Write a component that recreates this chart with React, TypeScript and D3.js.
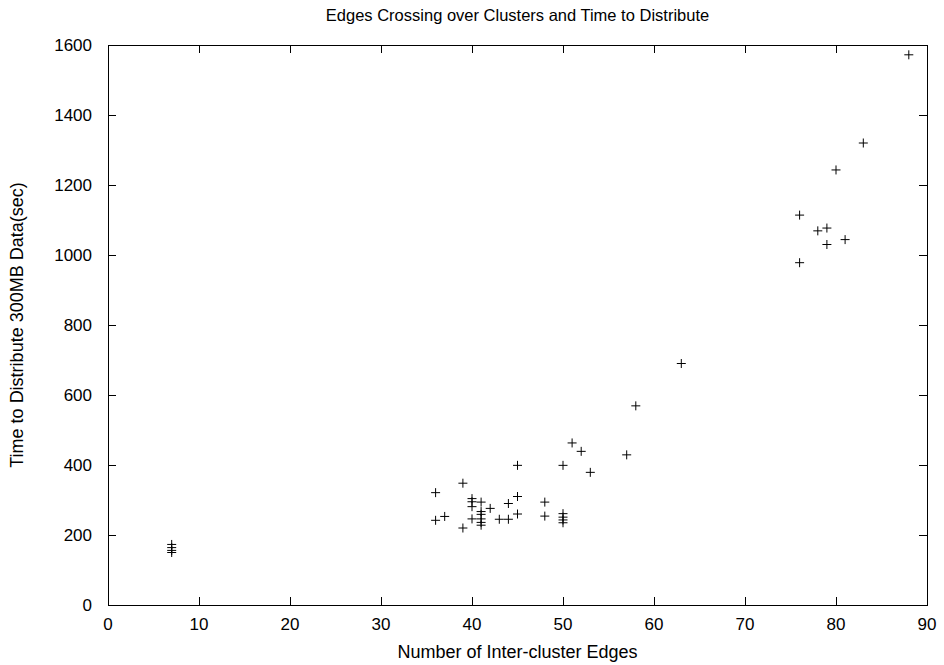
import React, { useEffect, useRef } from 'react';
import * as d3 from 'd3';

// Inter-cluster edge count per run
const edges = [
  7, 7, 7, 7,
  36, 36, 37, 39, 39,
  40, 40, 40, 40,
  41, 41, 41, 41, 41, 41,
  42, 43, 44, 44, 45, 45, 45,
  48, 48, 50, 50, 50, 50, 50,
  51, 52, 53, 57, 58, 63,
  76, 76, 78, 79, 79, 80, 81, 83, 88,
];

// Time to distribute 300MB (sec)
const seconds = [
  173, 164, 156, 150,
  321, 242, 253, 348, 220,
  304, 295, 281, 246,
  294, 267, 259, 246, 236, 228,
  276, 245, 290, 245, 399, 310, 260,
  294, 254, 399, 261, 251, 243, 235,
  463, 439, 379, 429, 569, 690,
  1114, 978, 1069, 1077, 1030, 1243, 1044, 1320, 1572,
];

const xTicks = [0, 10, 20, 30, 40, 50, 60, 70, 80, 90];
const yTicks = [0, 200, 400, 600, 800, 1000, 1200, 1400, 1600];

const title = 'Edges Crossing over Clusters and Time to Distribute';
const xLabel = 'Number of Inter-cluster Edges';
const yLabel = 'Time to Distribute 300MB Data(sec)';

const App = () => {
  const svgRef = useRef<SVGSVGElement>(null);

  const width = 944;
  const height = 665;
  const marginTop = 45;
  const marginRight = 17;
  const marginBottom = 60;
  const marginLeft = 108;
  const font = '"Liberation Sans", Arial, sans-serif';

  useEffect(() => {
    const svg = d3.select(svgRef.current);
    svg.selectAll('*').remove();

    const x = d3.scaleLinear()
      .domain([0, 90])
      .range([marginLeft, width - marginRight]);

    const y = d3.scaleLinear()
      .domain([0, 1600])
      .range([height - marginBottom, marginTop]);

    const x0 = x.range()[0], x1 = x.range()[1];
    const y0 = y.range()[0], y1 = y.range()[1];
    const tick = 8;

    const axes = svg.append('g')
      .attr('stroke', '#000')
      .attr('stroke-width', 1)
      .attr('shape-rendering', 'crispEdges');

    // frame
    axes.append('rect')
      .attr('x', x0)
      .attr('y', y1)
      .attr('width', x1 - x0)
      .attr('height', y0 - y1)
      .attr('fill', 'none');

    // x ticks (bottom and mirrored top)
    xTicks.forEach(t => {
      axes.append('line')
        .attr('x1', x(t)).attr('x2', x(t))
        .attr('y1', y0).attr('y2', y0 - tick);
      axes.append('line')
        .attr('x1', x(t)).attr('x2', x(t))
        .attr('y1', y1).attr('y2', y1 + tick);
    });

    // y ticks (left and mirrored right)
    yTicks.forEach(t => {
      axes.append('line')
        .attr('x1', x0).attr('x2', x0 + tick)
        .attr('y1', y(t)).attr('y2', y(t));
      axes.append('line')
        .attr('x1', x1).attr('x2', x1 - tick)
        .attr('y1', y(t)).attr('y2', y(t));
    });

    const labels = svg.append('g')
      .attr('font-family', font)
      .attr('font-size', 17)
      .attr('fill', '#000');

    labels.selectAll('text.xt')
      .data(xTicks)
      .join('text')
      .attr('class', 'xt')
      .attr('x', d => x(d))
      .attr('y', y0 + 25)
      .attr('text-anchor', 'middle')
      .text(d => d);

    labels.selectAll('text.yt')
      .data(yTicks)
      .join('text')
      .attr('class', 'yt')
      .attr('x', x0 - 16)
      .attr('y', d => y(d) + 6)
      .attr('text-anchor', 'end')
      .text(d => d);

    labels.append('text')
      .attr('x', (x0 + x1) / 2)
      .attr('y', 21)
      .attr('text-anchor', 'middle')
      .attr('font-size', 16.5)
      .text(title);

    labels.append('text')
      .attr('x', (x0 + x1) / 2)
      .attr('y', 658)
      .attr('text-anchor', 'middle')
      .attr('font-size', 18)
      .text(xLabel);

    labels.append('text')
      .attr('transform', `translate(23,${(y0 + y1) / 2}) rotate(-90)`)
      .attr('text-anchor', 'middle')
      .attr('font-size', 18)
      .text(yLabel);

    // points as "+" markers
    const s = 4.5;
    const pts = edges.map((e, i) => [x(e), y(seconds[i])]);
    svg.append('g')
      .attr('stroke', '#000')
      .attr('stroke-width', 1)
      .attr('fill', 'none')
      .selectAll('path')
      .data(pts)
      .join('path')
      .attr('d', d => `M${d[0] - s},${d[1]}H${d[0] + s}M${d[0]},${d[1] - s}V${d[1] + s}`);
  }, []);

  return (
    <svg
      ref={svgRef}
      width={width}
      height={height}
      viewBox={`0 0 ${width} ${height}`}
      style={{ position: 'absolute', left: 0, top: 0, background: '#fff' }}
    />
  );
};

export default App;
